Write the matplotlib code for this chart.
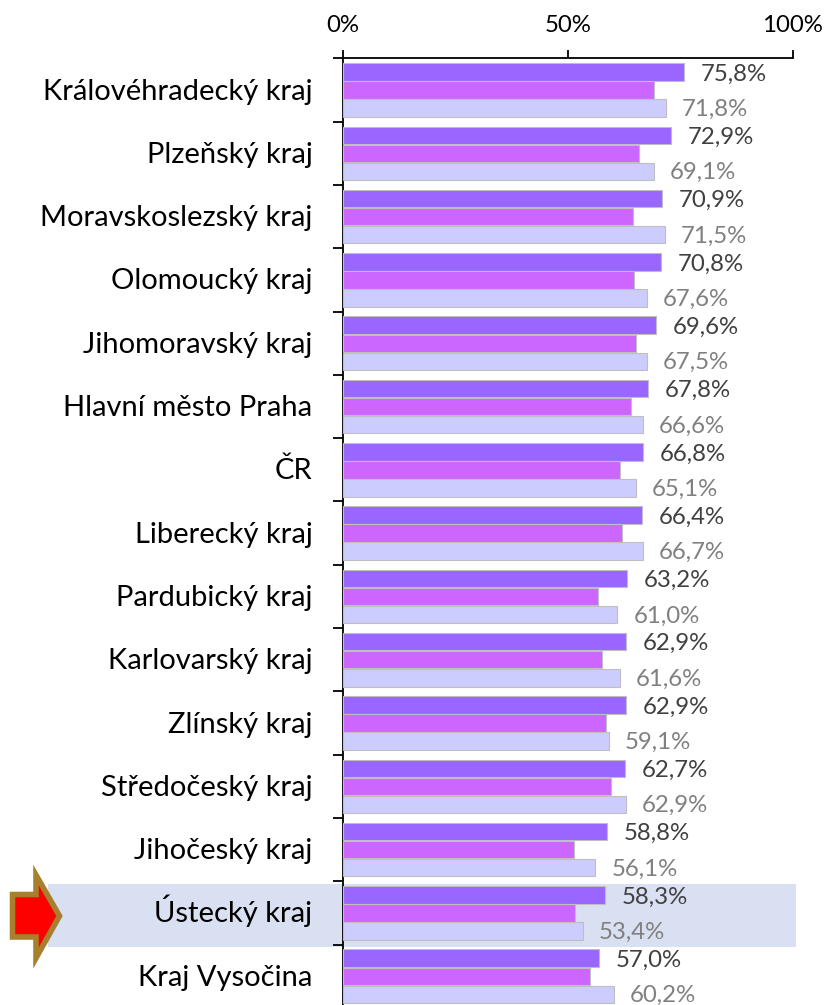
import matplotlib
matplotlib.use("Agg")
import matplotlib.pyplot as plt
from matplotlib.patches import Polygon, Rectangle
from matplotlib.ticker import FixedLocator, NullFormatter
from matplotlib.transforms import ScaledTranslation
import numpy as np

plt.rcParams["font.family"] = ["Lato", "DejaVu Sans"]

regions = [
    "Královéhradecký kraj", "Plzeňský kraj", "Moravskoslezský kraj",
    "Olomoucký kraj", "Jihomoravský kraj", "Hlavní město Praha", "ČR",
    "Liberecký kraj", "Pardubický kraj", "Karlovarský kraj", "Zlínský kraj",
    "Středočeský kraj", "Jihočeský kraj", "Ústecký kraj", "Kraj Vysočina",
]
series_top = [75.8, 72.9, 70.9, 70.8, 69.6, 67.8, 66.8, 66.4, 63.2, 62.9, 62.9, 62.7, 58.8, 58.3, 57.0]
series_mid = [69.2, 65.9, 64.4, 64.6, 65.1, 64.0, 61.5, 62.0, 56.6, 57.5, 58.4, 59.5, 51.3, 51.5, 54.9]
series_low = [71.8, 69.1, 71.5, 67.6, 67.5, 66.6, 65.1, 66.7, 61.0, 61.6, 59.1, 62.9, 56.1, 53.4, 60.2]
x_ticks = [0, 50, 100]
x_tick_labels = ["0%", "50%", "100%"]
highlight = "Ústecký kraj"

W, H = 827, 1005
fig = plt.figure(figsize=(W / 100, H / 100), dpi=100)
ax = fig.add_axes([343 / W, 1 - (58.4 + 15 * 63.3) / H, 449.7 / W, 15 * 63.3 / H])

y = np.arange(len(regions))
h = 0.285
edge = "#BFBFBF"
ax.barh(y - h, series_top, h * 0.97, color="#9966FF", edgecolor=edge, linewidth=0.8, zorder=3)
ax.barh(y, series_mid, h * 0.97, color="#CC66FF", edgecolor=edge, linewidth=0.8, zorder=3)
ax.barh(y + h, series_low, h * 0.97, color="#CCCCFF", edgecolor=edge, linewidth=0.8, zorder=3)

ax.set_xlim(0, 100)
ax.set_ylim(len(regions) - 0.5, -0.5)

# value labels, comma as decimal mark
for i in y:
    ax.annotate(f"{series_top[i]:.1f}%".replace(".", ","), (series_top[i], i - h),
                xytext=(12, -1.5), textcoords="offset points", va="center",
                fontsize=17.3, color="#404040", zorder=4)
    ax.annotate(f"{series_low[i]:.1f}%".replace(".", ","), (series_low[i], i + h),
                xytext=(11.5, -1), textcoords="offset points", va="center",
                fontsize=17.3, color="#808080", zorder=4)

ax.xaxis.tick_top()
ax.set_xticks(x_ticks)
ax.set_xticklabels(x_tick_labels, fontsize=17.3)
ax.tick_params(axis="x", length=6, width=1.3, pad=10, color="black")

ax.set_yticks(y)
ax.set_yticklabels(regions, fontsize=21)
ax.tick_params(axis="y", which="major", length=0, pad=22)
ax.yaxis.set_minor_locator(FixedLocator(np.arange(-0.5, len(regions))))
ax.yaxis.set_minor_formatter(NullFormatter())
ax.tick_params(axis="y", which="minor", length=7, width=1.3)

# same baseline in every row, descenders should not shift the text
shift = ScaledTranslation(0, -9.5 / 100, fig.dpi_scale_trans)
for label in ax.get_yticklabels():
    label.set_verticalalignment("baseline")
    label.set_transform(label.get_transform() + shift)

for side in ["right", "bottom"]:
    ax.spines[side].set_visible(False)
for side in ["left", "top"]:
    ax.spines[side].set_linewidth(1.3)

# highlighted row runs out past the axes on both sides
row = regions.index(highlight)
band = Rectangle((-65.6, row - 0.46), 166.4, 1, facecolor="#D9E0F1", edgecolor="none",
                 clip_on=False, zorder=0)
ax.add_patch(band)

# arrow marker, in pixel positions of the figure
pts = [(12.5, 894.5), (36, 894.5), (36, 875), (59.5, 916), (36, 958), (36, 937), (12.5, 937)]
arrow = Polygon([(px / W, 1 - py / H) for px, py in pts], closed=True,
                transform=fig.transFigure, facecolor="#FF0000", edgecolor="#A87F2D",
                linewidth=4, joinstyle="miter", zorder=5)
fig.add_artist(arrow)

fig.savefig("out.png", dpi=100)
